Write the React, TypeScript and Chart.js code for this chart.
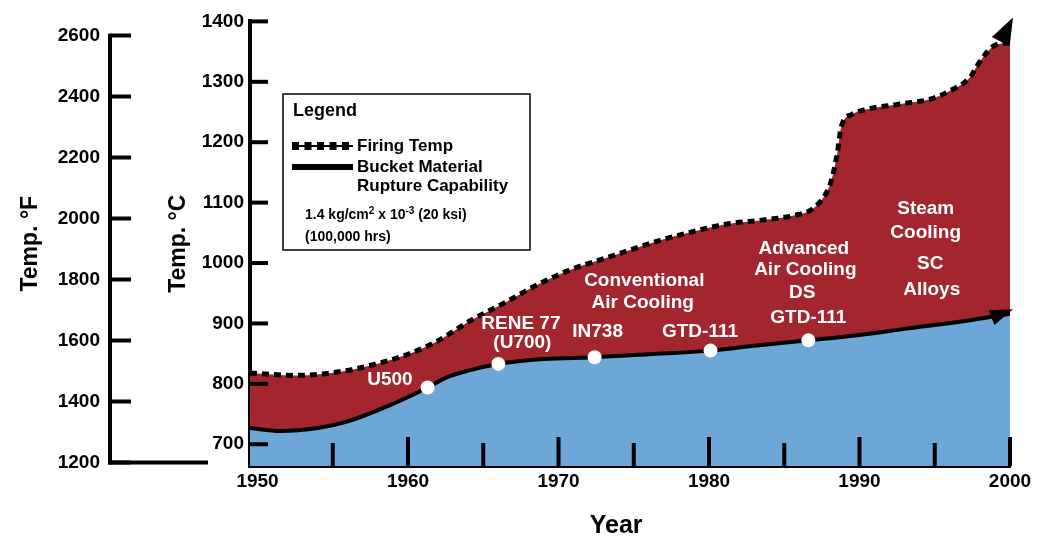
import React, { useEffect, useRef } from "react";
import { Chart, registerables } from "chart.js";

Chart.register(...registerables);

const FONT = '"Liberation Sans", Arial, sans-serif';
const RED = "#A3262F";
const BLUE = "#6CA7D8";

// Firing temperature curve (°C)
const firingYears = [1949.5, 1952.5, 1955.7, 1957.9, 1959.9, 1961.9, 1964.1, 1966.4, 1968.6, 1970.8, 1973.1, 1974.8, 1976.8, 1979.1, 1981.3, 1983.5, 1985.7, 1986.9, 1987.7, 1988.1, 1988.5, 1988.8, 1989.5, 1990.4, 1992.6, 1994.8, 1996.0, 1997.4, 1997.8, 1998.9, 2000];
const firingTemps = [818, 814, 821, 833, 848, 870, 904, 934, 964, 989, 1008, 1022, 1038, 1053, 1065, 1071, 1079, 1090, 1112, 1134, 1178, 1227, 1246, 1254, 1263, 1272, 1285, 1309, 1326, 1359, 1365];

// Bucket material rupture capability curve (°C)
const bucketYears = [1949.5, 1951.5, 1954, 1956, 1959, 1961.3, 1962.5, 1964, 1966, 1969, 1972.4, 1976, 1980.1, 1983, 1986.6, 1990, 1993, 1997, 2000];
const bucketTemps = [727, 722, 727, 738, 767, 794, 810, 822, 833, 841, 844, 849, 855, 863, 872, 881, 891, 904, 916];

// Alloy introduction points
const alloyYears = [1961.3, 1966.0, 1972.4, 1980.1, 1986.6];
const alloyTemps = [794, 833, 844, 855, 872];

// Axis ticks
const yearTicks = [1950, 1955, 1960, 1965, 1970, 1975, 1980, 1985, 1990, 1995, 2000];
const yearLabelTicks = [1950, 1960, 1970, 1980, 1990, 2000];
const celsiusTicks = [700, 800, 900, 1000, 1100, 1200, 1300, 1400];
const fahrenheitTicks = [1200, 1400, 1600, 1800, 2000, 2200, 2400, 2600];

// Text annotations inside the plot (year, °C)
const annotations = [
  { text: "U500", year: 1958.8, temp: 807 },
  { text: "RENE 77", year: 1967.5, temp: 899 },
  { text: "(U700)", year: 1967.6, temp: 868 },
  { text: "IN738", year: 1972.6, temp: 886 },
  { text: "Conventional", year: 1975.7, temp: 970 },
  { text: "Air Cooling", year: 1975.6, temp: 934 },
  { text: "GTD-111", year: 1979.4, temp: 886 },
  { text: "Advanced", year: 1986.3, temp: 1024 },
  { text: "Air Cooling", year: 1986.4, temp: 989 },
  { text: "DS", year: 1986.2, temp: 950 },
  { text: "GTD-111", year: 1986.6, temp: 909 },
  { text: "Steam", year: 1994.4, temp: 1090 },
  { text: "Cooling", year: 1994.4, temp: 1050 },
  { text: "SC", year: 1994.7, temp: 999 },
  { text: "Alloys", year: 1994.8, temp: 955 },
];

function line(ctx: CanvasRenderingContext2D, x1: number, y1: number, x2: number, y2: number) {
  ctx.beginPath();
  ctx.moveTo(x1, y1);
  ctx.lineTo(x2, y2);
  ctx.stroke();
}

function drawArrow(chart: any, dsIndex: number, dx: number, dy: number, angleDeg: number, len: number, half: number) {
  const meta = chart.getDatasetMeta(dsIndex);
  const pts = meta.data;
  if (!pts.length) return;
  const p = pts[pts.length - 1];
  const tipX = p.x + dx;
  const tipY = p.y + dy;
  const a = (angleDeg * Math.PI) / 180;
  const bx = tipX - len * Math.cos(a);
  const by = tipY - len * Math.sin(a);
  const px = -Math.sin(a) * half;
  const py = Math.cos(a) * half;
  const ctx = chart.ctx;
  ctx.beginPath();
  ctx.moveTo(tipX, tipY);
  ctx.lineTo(bx + px, by + py);
  ctx.lineTo(bx - px, by - py);
  ctx.closePath();
  ctx.fillStyle = "#000";
  ctx.fill();
}

const decorPlugin = {
  id: "decor",
  afterDatasetsDraw(chart: any) {
    const { ctx, chartArea, scales } = chart;
    const x = scales.x;
    const yC = scales.yC;
    ctx.save();
    drawArrow(chart, 1, 3, -25, -63, 27, 10);
    drawArrow(chart, 0, 3, -4.4, -21, 23, 8);

    // inward tick marks
    ctx.strokeStyle = "#000";
    ctx.lineWidth = 4;
    ctx.lineCap = "butt";
    yC.ticks.forEach((t: any) => {
      const py = yC.getPixelForValue(t.value);
      line(ctx, chartArea.left, py, chartArea.left + 18, py);
    });
    x.ticks.forEach((t: any) => {
      if (t.value === yearTicks[0]) return;
      const px = x.getPixelForValue(t.value);
      const major = t.value % 10 === 0;
      line(ctx, px, chartArea.bottom, px, chartArea.bottom - (major ? 29 : 23));
    });

    // white annotations
    ctx.fillStyle = "#fff";
    ctx.font = `bold 19px ${FONT}`;
    ctx.textAlign = "center";
    ctx.textBaseline = "middle";
    annotations.forEach((a) => {
      ctx.fillText(a.text, x.getPixelForValue(a.year), yC.getPixelForValue(a.temp));
    });
    ctx.restore();
  },
  afterDraw(chart: any) {
    const { ctx, scales } = chart;
    const yF = scales.yF;
    ctx.save();
    // Fahrenheit axis line
    ctx.strokeStyle = "#000";
    ctx.lineWidth = 4;
    const ax = yF.right - 21;
    const yTop = yF.getPixelForValue(fahrenheitTicks[fahrenheitTicks.length - 1]);
    const yBot = yF.getPixelForValue(fahrenheitTicks[0]);
    line(ctx, ax, yTop - 2, ax, yBot + 2);
    line(ctx, ax - 2, yBot, 208, yBot);

    // Legend box
    const L = 283, T = 94, W = 247, H = 156;
    ctx.fillStyle = "#fff";
    ctx.fillRect(L, T, W, H);
    ctx.lineWidth = 1.5;
    ctx.strokeRect(L, T, W, H);
    ctx.fillStyle = "#000";
    ctx.textAlign = "left";
    ctx.textBaseline = "middle";
    ctx.font = `bold 18px ${FONT}`;
    ctx.fillText("Legend", 293, 111);
    // dotted sample: thin line with square dots
    ctx.lineWidth = 2;
    line(ctx, 292, 146, 353, 146);
    for (let sx = 292; sx <= 347; sx += 12.5) {
      ctx.fillRect(sx, 142, 7, 8);
    }
    // solid sample
    ctx.lineWidth = 6;
    line(ctx, 292, 167, 353, 167);
    ctx.font = `bold 17px ${FONT}`;
    ctx.fillText("Firing Temp", 357, 146);
    ctx.fillText("Bucket Material", 357, 167);
    ctx.fillText("Rupture Capability", 357, 186);
    // small line with superscripts
    const big = `bold 14px ${FONT}`;
    const small = `bold 10px ${FONT}`;
    let cx = 305;
    const by = 215;
    const seg = (txt: string, f: string, dy: number) => {
      ctx.font = f;
      ctx.fillText(txt, cx, by + dy);
      cx += ctx.measureText(txt).width;
    };
    seg("1.4 kg/cm", big, 0);
    seg("2", small, -4);
    seg(" x 10", big, 0);
    seg("-3", small, -4);
    seg(" (20 ksi)", big, 0);
    ctx.font = big;
    ctx.fillText("(100,000 hrs)", 305, 237);
    ctx.restore();
  },
};

export default function App() {
  const ref = useRef<HTMLCanvasElement | null>(null);
  useEffect(() => {
    document.body.style.margin = "0";
    const canvas = ref.current;
    if (!canvas) return;
    const tickFont = { family: FONT, size: 19, weight: "bold" as const };
    const plain = (v: any) => String(v);
    const chart = new Chart(canvas, {
      type: "line",
      data: {
        datasets: [
          {
            label: "Bucket Material Rupture Capability",
            data: bucketYears.map((yr, i) => ({ x: yr, y: bucketTemps[i] })),
            borderColor: "#000",
            borderWidth: 4,
            backgroundColor: BLUE,
            fill: "start",
            pointRadius: 0,
            cubicInterpolationMode: "monotone",
            yAxisID: "yC",
            order: 1,
          },
          {
            label: "Firing Temp",
            data: firingYears.map((yr, i) => ({ x: yr, y: firingTemps[i] })),
            borderColor: "#000",
            borderWidth: 5,
            borderDash: [7, 5],
            borderCapStyle: "butt",
            backgroundColor: RED,
            fill: "start",
            pointRadius: 0,
            cubicInterpolationMode: "monotone",
            yAxisID: "yC",
            order: 2,
          },
          {
            label: "Alloys",
            data: alloyYears.map((yr, i) => ({ x: yr, y: alloyTemps[i] })),
            showLine: false,
            fill: false,
            pointRadius: 7,
            pointBackgroundColor: "#fff",
            pointBorderWidth: 0,
            pointBorderColor: "#fff",
            yAxisID: "yC",
            order: 0,
          },
        ],
      },
      options: {
        responsive: false,
        animation: false,
        events: [],
        layout: { padding: { top: 18, right: 31, bottom: 0, left: 0 } },
        plugins: { legend: { display: false }, tooltip: { enabled: false } },
        scales: {
          x: {
            type: "linear",
            position: "bottom",
            min: 1949.5,
            max: 2000,
            afterBuildTicks: (s: any) => {
              s.ticks = yearTicks.map((v) => ({ value: v }));
            },
            ticks: {
              autoSkip: false,
              maxRotation: 0,
              padding: 4,
              color: "#000",
              font: tickFont,
              callback: (v: any) => (yearLabelTicks.includes(Number(v)) ? String(v) : ""),
            },
            grid: { display: false, drawTicks: false },
            border: { display: true, color: "#000", width: 4 },
            title: {
              display: true,
              text: "Year    ",
              color: "#000",
              font: { family: FONT, size: 25, weight: "bold" },
              padding: { top: 0, bottom: 0 },
            },
            afterFit: (s: any) => {
              s.height = 75;
            },
          },
          yC: {
            type: "linear",
            position: "left",
            weight: 0,
            min: 664,
            max: 1400,
            afterBuildTicks: (s: any) => {
              s.ticks = celsiusTicks.map((v) => ({ value: v }));
            },
            ticks: { padding: 6, color: "#000", font: tickFont, callback: plain },
            grid: { display: false, drawTicks: false },
            border: { display: true, color: "#000", width: 4 },
            title: {
              display: true,
              text: "Temp. °C",
              color: "#000",
              font: { family: FONT, size: 23, weight: "bold" },
              padding: { top: 34, bottom: 0 },
            },
            afterFit: (s: any) => {
              s.width = 119;
            },
          },
          yF: {
            type: "linear",
            position: "left",
            weight: 1,
            min: 1188.6,
            max: 2646.9,
            afterBuildTicks: (s: any) => {
              s.ticks = fahrenheitTicks.map((v) => ({ value: v }));
            },
            ticks: { padding: 10, color: "#000", font: tickFont, callback: plain },
            grid: {
              display: true,
              drawOnChartArea: false,
              drawTicks: true,
              tickLength: 21,
              tickWidth: 4,
              tickColor: "#000",
            },
            border: { display: false },
            title: {
              display: true,
              text: "Temp. °F",
              color: "#000",
              font: { family: FONT, size: 23, weight: "bold" },
              padding: { top: 17, bottom: 0 },
            },
            afterFit: (s: any) => {
              s.width = 131;
            },
          },
        },
      } as any,
      plugins: [decorPlugin],
    });
    return () => chart.destroy();
  }, []);
  return (
    <div style={{ width: 1041, height: 541, overflow: "hidden", background: "#fff" }}>
      <canvas ref={ref} width={1041} height={541} style={{ display: "block" }} />
    </div>
  );
}
